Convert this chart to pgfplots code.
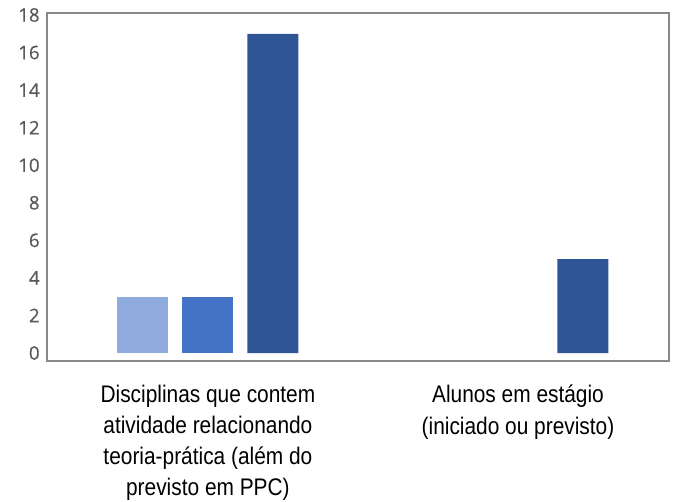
\documentclass[border=0pt]{standalone}
\usepackage{pgfplots}
\pgfplotsset{compat=1.18}
\usepackage{fontspec}
\setmainfont{Liberation Sans}
\newfontfamily\labfont[FakeStretch=0.87]{Liberation Sans}
\newfontfamily\tickfont[FakeBold=0.6]{Open Sans}
\definecolor{c1}{HTML}{8FAADC}
\definecolor{c2}{HTML}{4472C4}
\definecolor{c3}{HTML}{2F5597}
\definecolor{frame}{HTML}{898989}
\definecolor{ticktxt}{HTML}{595959}
\begin{document}
\begin{tikzpicture}
\useasboundingbox (-35.25pt,-105pt) rectangle (471pt,270.75pt);
\begin{axis}[
  at={(0,0)}, anchor=south west,
  scale only axis,
  width=466.5pt, height=261pt,
  xmin=-0.519, xmax=1.487,
  ymin=-0.426, ymax=18.107,
  ytick={0,2,...,18},
  xtick={0,1},
  xticklabels={{Disciplinas que contem\\atividade relacionando\\teoria-prática (além do\\previsto em PPC)},{Alunos em estágio\\(iniciado ou previsto)}},
  xticklabel style={anchor=north, inner sep=0pt, yshift=-18pt, align=center, font=\labfont\fontsize{18pt}{23.3pt}\selectfont, text=black},
  yticklabel style={font=\tickfont\fontsize{14pt}{15pt}\selectfont, text=ticktxt, xshift=-2pt},
  /pgf/number format/assume math mode=true,
  major tick length=0pt,
  axis line style={frame, line width=1.5pt},
  ybar=10.5pt,
  bar width=38.25pt,
  clip=false,
]
\addplot[fill=c1, draw=none] coordinates {(0,3)};
\addplot[fill=c2, draw=none] coordinates {(0,3)};
\addplot[fill=c3, draw=none] coordinates {(0,17) (1,5)};
\end{axis}
\end{tikzpicture}
\end{document}
